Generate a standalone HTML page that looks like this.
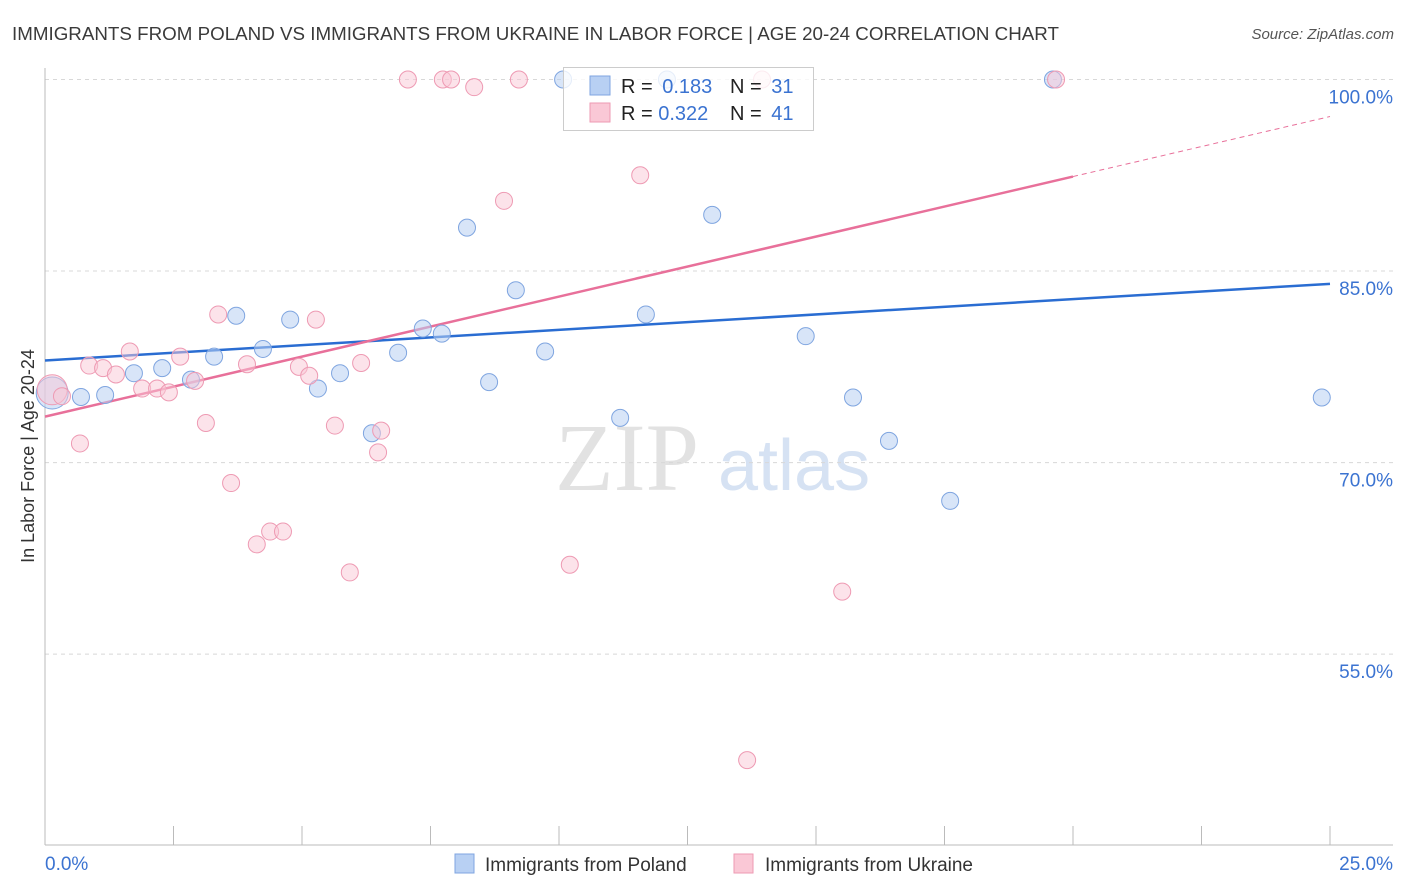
<!DOCTYPE html>
<html><head><meta charset="utf-8"><style>
body{margin:0;background:#fff;font-family:"Liberation Sans",sans-serif;}
svg{display:block}
</style></head><body>
<svg id="chart" width="1406" height="892">
<text x="12" y="40" font-size="18" fill="#3a3a3a" textLength="1047" lengthAdjust="spacingAndGlyphs">IMMIGRANTS FROM POLAND VS IMMIGRANTS FROM UKRAINE IN LABOR FORCE | AGE 20-24 CORRELATION CHART</text>
<text x="1394" y="39" font-size="15" fill="#555" font-style="italic" text-anchor="end">Source: ZipAtlas.com</text>
<text transform="translate(34,456) rotate(-90)" font-size="18" fill="#333" text-anchor="middle">In Labor Force | Age 20-24</text>
<g><text x="555" y="490" font-size="96" fill="#e2e2e2" font-family="Liberation Serif,serif">ZIP</text><text x="718" y="490" font-size="72" fill="#d6e2f3">atlas</text></g>
<g id="grid"></g><g id="axes"></g><g id="trend"></g><g id="pts"></g>
<g>
<rect x="563.5" y="67.5" width="250" height="63" fill="#fff" fill-opacity="0.8" stroke="#ccc"/>
<rect x="590" y="76" width="20" height="19" fill="#b8d0f3" stroke="#7fa5e0"/>
<rect x="590" y="103" width="20" height="19" fill="#fac8d6" stroke="#ee9ab3"/>
<text x="621" y="93" font-size="20" fill="#222">R = <tspan fill="#3b73d1">&#8201;0.183</tspan><tspan x="730">N = </tspan><tspan fill="#3b73d1">&#8201;31</tspan></text>
<text x="621" y="120" font-size="20" fill="#222">R = <tspan fill="#3b73d1">0.322</tspan><tspan x="730">N = </tspan><tspan fill="#3b73d1">&#8201;41</tspan></text>
</g>
<g>
<rect x="455" y="854" width="19" height="19" fill="#b8d0f3" stroke="#7fa5e0"/>
<text x="485" y="871" font-size="19" fill="#333">Immigrants from Poland</text>
<rect x="734" y="854" width="19" height="19" fill="#fac8d6" stroke="#ee9ab3"/>
<text x="765" y="871" font-size="19" fill="#333">Immigrants from Ukraine</text>
</g>
</svg>
<script>
const polandX=[0.14,0.70,1.17,1.73,2.28,2.84,3.29,3.72,4.24,4.77,5.31,5.74,6.36,6.87,7.35,7.72,8.21,8.64,9.16,9.73,10.08,11.19,11.69,12.1,12.98,14.8,15.72,16.42,17.61,19.61,24.84];
const polandY=[75.45,75.14,75.29,77.0,77.4,76.5,78.3,81.5,78.9,81.2,75.8,77.0,72.3,78.6,80.5,80.1,88.4,76.3,83.5,78.7,100,73.5,81.6,100,89.4,79.9,75.1,71.7,67.0,100,75.1];
const ukraineX=[0.14,0.33,0.68,0.86,1.13,1.38,1.65,1.89,2.18,2.41,2.63,2.92,3.13,3.37,3.62,3.93,4.12,4.38,4.63,4.94,5.14,5.27,5.64,5.93,6.15,6.48,6.54,7.06,7.74,7.9,8.35,8.93,9.22,10.21,11.58,13.66,13.95,15.51,19.67];
const ukraineY=[75.7,75.2,71.5,77.6,77.4,76.9,78.7,75.8,75.8,75.5,78.3,76.4,73.1,81.6,68.4,77.7,63.6,64.6,64.6,77.5,76.8,81.2,72.9,61.4,77.8,70.8,72.5,100,100,100,99.4,90.5,100,62.0,92.5,46.7,100,59.9,100];
const polandTrend=[78.0,84.0];   // y at x=0 and x=25
const ukraineTrend=[73.6,97.1];  // y at x=0 and x=25
const yTicks=[100,85,70,55];
const yTickLabels=["100.0%","85.0%","70.0%","55.0%"];
const xTickLabels=["0.0%","25.0%"];

const NS="http://www.w3.org/2000/svg";
const sx=v=>45+v*(1285/25);
const sy=v=>79.5+(100-v)*12.77;
function mk(parent,tag,attrs){const e=document.createElementNS(NS,tag);for(const k in attrs)e.setAttribute(k,attrs[k]);document.getElementById(parent).appendChild(e);return e;}
yTicks.forEach((t,i)=>{
  const l=mk('grid','line',{x1:45,x2:1393,y1:sy(t),y2:sy(t),stroke:'#d8d8d8','stroke-dasharray':'4,4'});
  
  
  const tx=mk('grid','text',{x:1393,y:sy(t)+24,'font-size':19,fill:'#3b73d1','text-anchor':'end'});
  tx.textContent=yTickLabels[i];
  
  
});
let a=mk('axes','line',{x1:45,x2:45,y1:68,y2:845,stroke:'#bbb'});


a=mk('axes','line',{x1:45,x2:1393,y1:845,y2:845,stroke:'#bbb'});


for(let i=0;i<=10;i++){
  const x=sx(i*2.5);
  const t=mk('axes','line',{x1:x,x2:x,y1:826,y2:845,stroke:'#bbb'});
  
  
}
[[0,'start'],[25,'end']].forEach((p,i)=>{
  const t=mk('axes','text',{x:i?1393:45,y:870,'font-size':19,fill:'#3b73d1','text-anchor':p[1]});
  t.textContent=xTickLabels[i];
  
  
});
let tl=mk('trend','line',{x1:sx(0),y1:sy(polandTrend[0]),x2:sx(25),y2:sy(polandTrend[1]),stroke:'#2a6dd2','stroke-width':2.5});


const ux=20;const uy=ukraineTrend[0]+(ukraineTrend[1]-ukraineTrend[0])*ux/25;
tl=mk('trend','line',{x1:sx(0),y1:sy(ukraineTrend[0]),x2:sx(ux),y2:sy(uy),stroke:'#e8709a','stroke-width':2.5});


tl=mk('trend','line',{x1:sx(ux),y1:sy(uy),x2:sx(25),y2:sy(ukraineTrend[1]),stroke:'#e8709a','stroke-width':1,'stroke-dasharray':'5,4'});


polandX.forEach((x,i)=>{
  const c=mk('pts','circle',{cx:sx(x),cy:sy(polandY[i]),r:i===0?16:8.5,fill:'#b8d0f3','fill-opacity':0.55,stroke:'#7fa5e0','stroke-width':1});
  
  
});
ukraineX.forEach((x,i)=>{
  const c=mk('pts','circle',{cx:sx(x),cy:sy(ukraineY[i]),r:i===0?15:8.5,fill:'#fac8d6','fill-opacity':0.5,stroke:'#ee9ab3','stroke-width':1});
  
  
});
</script>
</body></html>
